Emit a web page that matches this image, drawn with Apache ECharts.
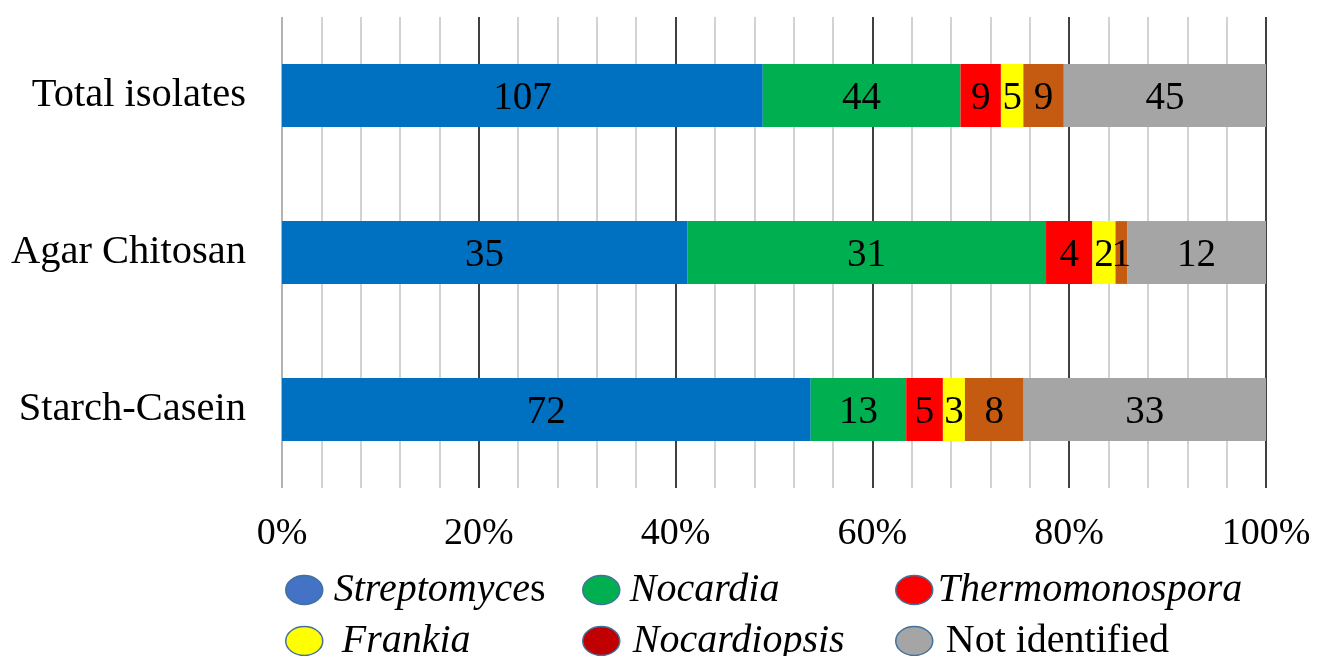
<!DOCTYPE html>
<html>
<head>
<meta charset="utf-8">
<script src="https://cdn.jsdelivr.net/npm/echarts@6/dist/echarts.min.js"></script>
<style>html,body{margin:0;padding:0;background:#fff;}#c{width:1317px;height:656px;}</style>
</head>
<body>
<div id="c"></div>
<script>
const categories = ['Total isolates', 'Agar Chitosan', 'Starch-Casein'];
const seriesNames = ['Streptomyces', 'Nocardia', 'Thermomonospora', 'Frankia', 'Nocardiopsis', 'Not identified'];
const streptomyces = [107, 35, 72];
const nocardia = [44, 31, 13];
const thermomonospora = [9, 4, 5];
const frankia = [5, 2, 3];
const nocardiopsis = [9, 1, 8];
const notIdentified = [45, 12, 33];
const xTicks = [0, 20, 40, 60, 80, 100];

const counts = [streptomyces, nocardia, thermomonospora, frankia, nocardiopsis, notIdentified];
const barColors = ['#0070C0', '#00B050', '#FF0000', '#FFFF00', '#C55A11', '#A5A5A5'];
const legendColors = ['#4472C4', '#00B050', '#FF0000', '#FFFF00', '#C00000', '#A5A5A5'];
const totals = categories.map((c, i) => counts.reduce((s, arr) => s + arr[i], 0));

const FONT = '"Times New Roman", "Liberation Serif", serif';
const chart = echarts.init(document.getElementById('c'));

const legendPos = [
  {left: 280, cy: 586, pad: 6},
  {left: 577, cy: 586, pad: 5},
  {left: 890, cy: 586, pad: 0},
  {left: 280, cy: 637, pad: 14},
  {left: 577, cy: 637, pad: 8},
  {left: 890, cy: 637, pad: 8}
];
const ellipse = 'path://M0,14.5A18.5,14.5 0 1,1 37,14.5A18.5,14.5 0 1,1 0,14.5Z';

const legends = seriesNames.map((name, i) => ({
  show: true,
  left: legendPos[i].left,
  top: legendPos[i].cy - 21,
  orient: 'horizontal',
  icon: ellipse,
  itemWidth: 37,
  itemHeight: 29,
  selectedMode: false,
  data: [{name: name, itemStyle: {color: legendColors[i], borderColor: '#41719C', borderWidth: 1.5}}],
  formatter: function (n) {
    if (n === 'Streptomyces') return '{i|Streptomyce}{n|s}';
    if (n === 'Not identified') return '{n|' + n + '}';
    return '{i|' + n + '}';
  },
  textStyle: {
    padding: [0, 0, 0, legendPos[i].pad],
    rich: {
      i: {fontFamily: FONT, fontStyle: 'italic', fontSize: 40, color: '#000', lineHeight: 42},
      n: {fontFamily: FONT, fontSize: 40, color: '#000', lineHeight: 42}
    }
  }
}));

const series = seriesNames.map((name, si) => ({
  name: name,
  type: 'bar',
  stack: 'total',
  barCategoryGap: '60%',
  itemStyle: {color: barColors[si]},
  label: {
    show: true,
    position: 'inside',
    offset: [0, 3],
    color: '#000',
    fontFamily: FONT,
    fontSize: 39,
    formatter: function (p) { return String(counts[p.seriesIndex][p.dataIndex]); }
  },
  emphasis: {disabled: true},
  data: counts[si].map((v, ci) => v / totals[ci] * 100)
}));

chart.setOption({
  animation: false,
  backgroundColor: '#fff',
  grid: {left: 282, right: 51, top: 17, bottom: 168, containLabel: false},
  legend: legends,
  xAxis: {
    type: 'value',
    min: xTicks[0],
    max: xTicks[xTicks.length - 1],
    interval: 20,
    axisLine: {show: false},
    axisTick: {show: false},
    minorTick: {show: false, splitNumber: 5},
    minorSplitLine: {show: true, lineStyle: {color: '#C4C4C4', width: 1.5}},
    splitLine: {show: true, lineStyle: {color: ['#9A9A9A', '#000', '#000', '#000', '#000', '#000'], width: 1.5}},
    axisLabel: {
      fontFamily: FONT, fontSize: 38, color: '#000', margin: 27,
      formatter: function (v) { return v + '%'; }
    }
  },
  yAxis: {
    type: 'category',
    inverse: true,
    data: categories,
    axisLine: {show: false},
    axisTick: {show: false},
    axisLabel: {fontFamily: FONT, fontSize: 40.5, color: '#000', margin: 36, padding: [6, 0, 0, 0]}
  },
  series: series
});
</script>
</body>
</html>
